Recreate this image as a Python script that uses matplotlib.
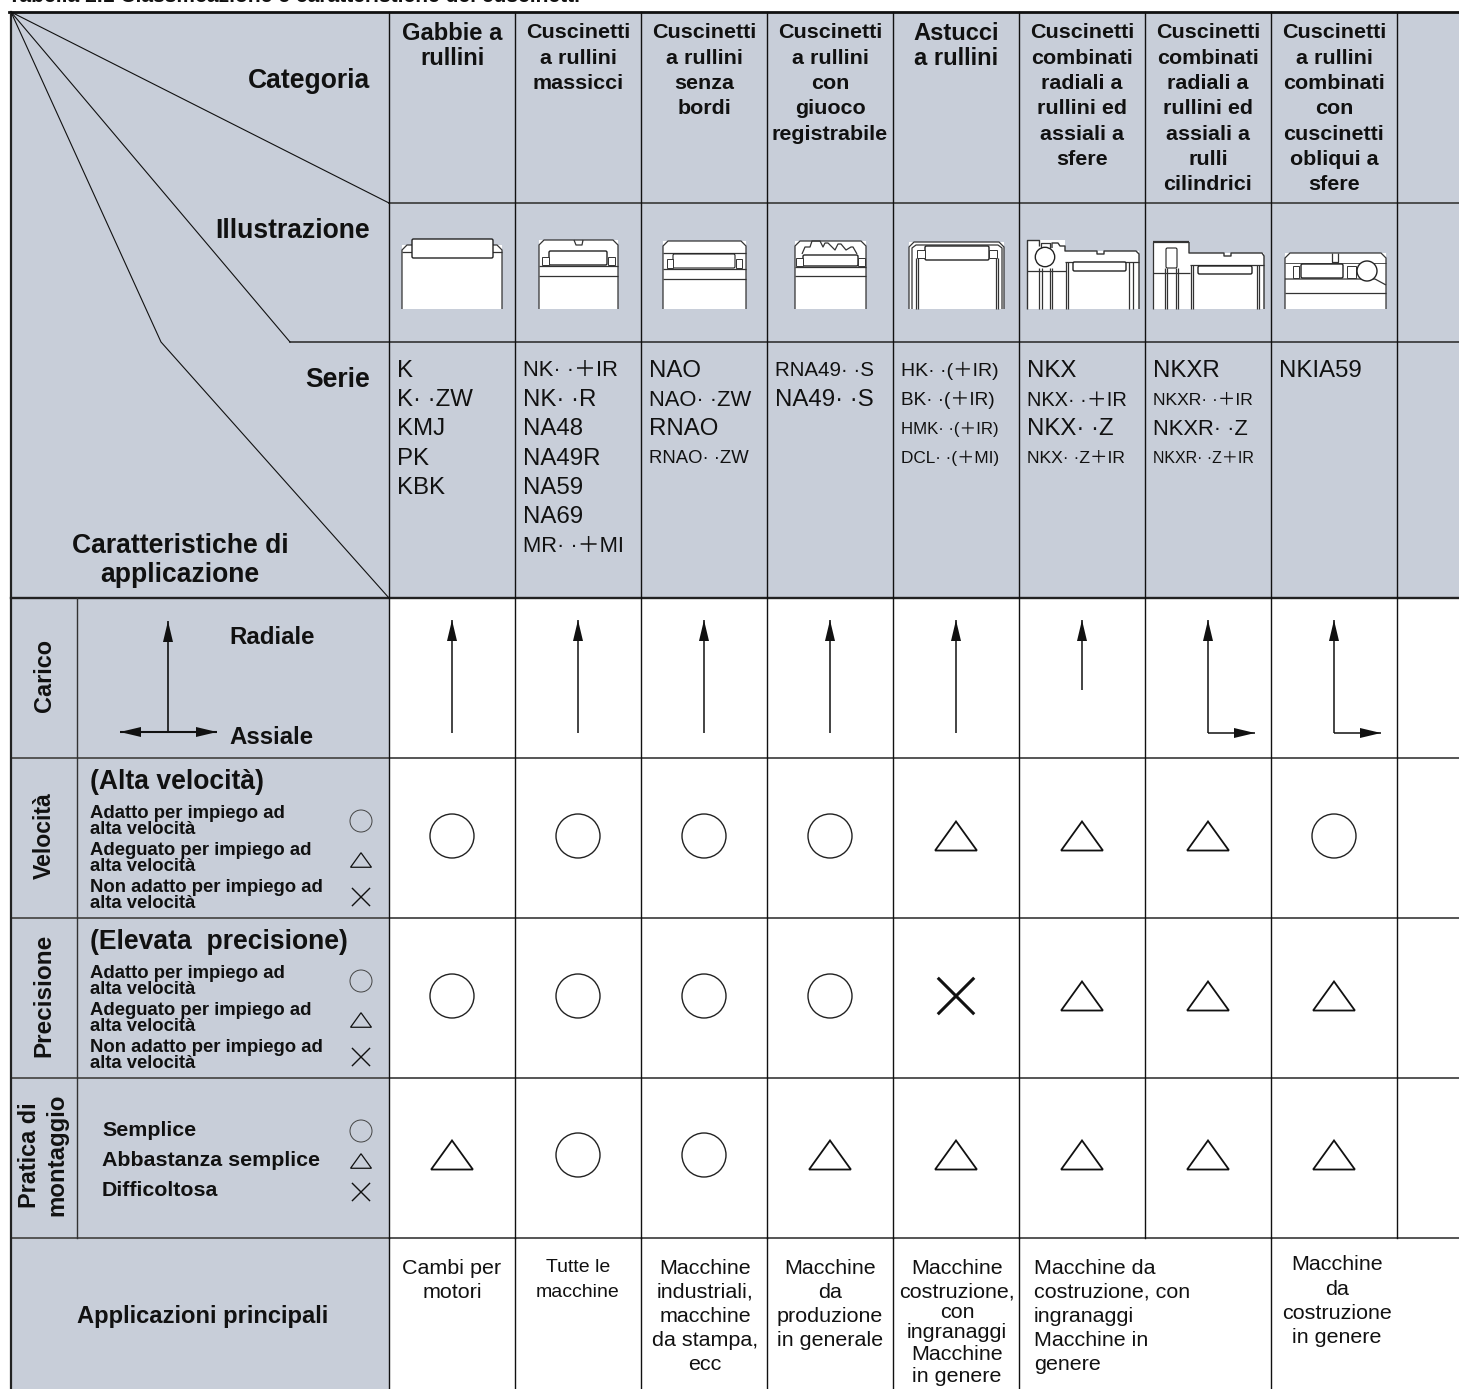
import matplotlib
matplotlib.use('Agg')
import matplotlib.pyplot as plt
from matplotlib.patches import Rectangle, Polygon, Circle, FancyBboxPatch

GREY = '#c8ced9'
SANS = ['Liberation Sans', 'Noto Sans CJK JP', 'DejaVu Sans']

# griglia della tabella
col_x = [389, 515, 641, 767, 893, 1019, 1145, 1271, 1397]
row_y = [12, 203, 342, 598, 758, 918, 1078, 1238, 1389]

categorie = [
    ['Gabbie a', 'rullini'],
    ['Cuscinetti', 'a rullini', 'massicci'],
    ['Cuscinetti', 'a rullini', 'senza', 'bordi'],
    ['Cuscinetti', 'a rullini', 'con', 'giuoco', 'registrabile'],
    ['Astucci', 'a rullini'],
    ['Cuscinetti', 'combinati', 'radiali a', 'rullini ed', 'assiali a', 'sfere'],
    ['Cuscinetti', 'combinati', 'radiali a', 'rullini ed', 'assiali a', 'rulli', 'cilindrici'],
    ['Cuscinetti', 'a rullini', 'combinati', 'con', 'cuscinetti', 'obliqui a', 'sfere'],
]
serie = [
    ['K', 'K· ·ZW', 'KMJ', 'PK', 'KBK'],
    ['NK· ·＋IR', 'NK· ·R', 'NA48', 'NA49R', 'NA59', 'NA69', 'MR· ·＋MI'],
    ['NAO', 'NAO· ·ZW', 'RNAO', 'RNAO· ·ZW'],
    ['RNA49· ·S', 'NA49· ·S'],
    ['HK· ·(＋IR)', 'BK· ·(＋IR)', 'HMK· ·(＋IR)', 'DCL· ·(＋MI)'],
    ['NKX', 'NKX· ·＋IR', 'NKX· ·Z', 'NKX· ·Z＋IR'],
    ['NKXR', 'NKXR· ·＋IR', 'NKXR· ·Z', 'NKXR· ·Z＋IR'],
    ['NKIA59'],
]
# corpi dei testi di serie, stessa forma di serie
serie_px = [
    [24, 24, 24, 24, 24],
    [22, 24, 24, 24, 24, 24, 22],
    [24, 22, 24, 18.5],
    [20.5, 24],
    [19.5, 19, 16.7, 17.2],
    [24, 20, 24, 17.5],
    [24, 17.5, 22, 16],
    [24],
]
# C = cerchio, T = triangolo, X = croce
velocita = ['C', 'C', 'C', 'C', 'T', 'T', 'T', 'C']
precisione = ['C', 'C', 'C', 'C', 'X', 'T', 'T', 'T']
montaggio = ['T', 'C', 'C', 'T', 'T', 'T', 'T', 'T']
radiale = [113, 113, 113, 113, 113, 70, 113, 113]
assiale = [0, 0, 0, 0, 0, 0, 1, 1]
legenda_vel = [['Adatto per impiego ad', 'alta velocità'],
               ['Adeguato per impiego ad', 'alta velocità'],
               ['Non adatto per impiego ad', 'alta velocità']]
legenda_mont = ['Semplice', 'Abbastanza semplice', 'Difficoltosa']
applicazioni = [
    ['Cambi per', 'motori'],
    ['Tutte le', 'macchine'],
    ['Macchine', 'industriali,', 'macchine', 'da stampa,', 'ecc'],
    ['Macchine', 'da', 'produzione', 'in generale'],
    ['Macchine', 'costruzione,', 'con', 'ingranaggi', 'Macchine', 'in genere'],
    ['Macchine da', 'costruzione, con', 'ingranaggi', 'Macchine in', 'genere'],
    ['Macchine', 'da', 'costruzione', 'in genere'],
]
app_x = [452, 578, 705, 830, 957, 1034, 1337]
app_y = [1268, 1268, 1268, 1268, 1268, 1268, 1265]

fig = plt.figure(figsize=(14.59, 13.89), dpi=100)
ax = fig.add_axes([0, 0, 1, 1])
ax.set_xlim(0, 1459)
ax.set_ylim(1389, 0)
ax.axis('off')


def txt(x, y, s, size, bold=True, ha='center', rot=0):
    if rot == 0:
        y = y + 2
    ax.text(x, y, s, fontsize=size * 0.72, fontweight='bold' if bold else 'normal', ha=ha,
            va='center', rotation=rot, family=SANS, color='#111111', linespacing=1.0)


def simbolo(x, y, kind, r):
    big = r > 15
    if kind == 'C':
        ax.add_patch(Circle((x, y), r, fc='none', ec='#222222' if big else '#444444',
                            lw=1.0 if big else 0.7, zorder=3))
    elif kind == 'T':
        h = r * 0.66
        ax.add_patch(Polygon([(x - r * 0.95, y + h), (x + r * 0.95, y + h), (x, y - h)], closed=True,
                             fc='none', ec='#111111', lw=1.3 if big else 0.9, zorder=3))
    else:
        d = r * 0.78
        lw = 2.2 if big else 1.0
        ax.plot([x - d, x + d], [y - d, y + d], color='#111111', lw=lw, zorder=3)
        ax.plot([x - d, x + d], [y + d, y - d], color='#111111', lw=lw, zorder=3)


def freccia(x0, y0, x1, y1, lw=1.1):
    # punta fatta a mano: lunga 21 px, larga 10 px
    ax.plot([x0, x1], [y0, y1], color='#111111', lw=lw, zorder=3, solid_capstyle='butt')
    lung = ((x1 - x0) ** 2 + (y1 - y0) ** 2) ** 0.5
    ux, uy = (x1 - x0) / lung, (y1 - y0) / lung
    bx, by = x1 - ux * 21, y1 - uy * 21
    ax.add_patch(Polygon([(x1, y1), (bx - uy * 5, by + ux * 5), (bx + uy * 5, by - ux * 5)],
                         closed=True, fc='#111111', ec='none', zorder=4))


def linea(xs, ys, lw=0.9):
    ax.plot(xs, ys, color='#333333', lw=lw, zorder=3, solid_capstyle='butt')


def bianco(left, top, right, bottom=309):
    ax.add_patch(Rectangle((left, top), right - left, bottom - top, fc='white', ec='none', zorder=2))


def profilo(left, right, top, bottom=309):
    bianco(left, top, right, bottom)
    linea([left, left, left + 5, right - 5, right, right], [bottom, top + 5, top, top, top + 5, bottom])


def rullo(left, right, top, bottom, lw=1.0):
    ax.add_patch(FancyBboxPatch((left + 1, top + 1), right - left - 2, bottom - top - 2,
                                boxstyle='round,pad=1,rounding_size=1.5', fc='white', ec='#222222',
                                lw=lw, zorder=4))


def gabbia(left, right, top, bottom):
    ax.add_patch(Rectangle((left, top), right - left, bottom - top, fc='white', ec='#333333', lw=0.7, zorder=4))


# sfondi
ax.add_patch(Rectangle((11, row_y[0]), 378, 1389 - row_y[0], fc=GREY, ec='none', zorder=0))
ax.add_patch(Rectangle((389, row_y[0]), 1459 - 389, row_y[3] - row_y[0], fc=GREY, ec='none', zorder=0))

# griglia
for y in row_y[:-1]:
    if y == 342:
        ax.plot([290, 1459], [y, y], color='#333333', lw=1.2, zorder=1)
    elif y == 203:
        ax.plot([389, 1459], [y, y], color='#444444', lw=1.3, zorder=1)
    elif y == 12:
        ax.plot([9, 1459], [y, y], color='#111111', lw=2.0, zorder=1)
    elif y == 598:
        ax.plot([11, 1459], [y, y], color='#222222', lw=1.7, zorder=1)
    else:
        ax.plot([11, 1459], [y, y], color='#555555', lw=1.4, zorder=1)
ax.plot([11, 11], [12, 1389], color='#222222', lw=1.6, zorder=1)
ax.plot([76.5, 76.5], [598, 1238], color='#333333', lw=1.0, zorder=1)
for x in col_x:
    ax.plot([x - 0.5, x - 0.5], [12, 1238], color='#111111', lw=1.0, zorder=1)
    if x not in (1145, 1397):
        ax.plot([x - 0.5, x - 0.5], [1238, 1389], color='#111111', lw=1.0, zorder=1)

# diagonali
ax.plot([11, 389], [12, 203], color='#111111', lw=0.8, zorder=1)
ax.plot([11, 290], [12, 342], color='#111111', lw=0.8, zorder=1)
ax.plot([11, 161, 389], [12, 342, 598], color='#111111', lw=0.8, zorder=1)

# titolo, tagliato in alto come nell'originale
txt(8, -5, 'Tabella 2.1 Classificazione e caratteristiche dei cuscinetti', 21, ha='left')

txt(370, 79, 'Categoria', 26.5, ha='right')
txt(370, 229, 'Illustrazione', 26.5, ha='right')
txt(370, 378, 'Serie', 26.5, ha='right')
txt(180, 544, 'Caratteristiche di', 26.5)
txt(180, 573, 'applicazione', 26.5)

centri = [(col_x[i] + col_x[i + 1]) / 2 for i in range(8)]
for j, c in enumerate(centri):
    size = 23.8 if j in (0, 4) else 21.5
    for i, riga in enumerate(categorie[j]):
        txt(c, 31 + 25.3 * i, riga, size)
    for i, s in enumerate(serie[j]):
        txt(col_x[j] + 8, 369 + 29.2 * i, s, serie_px[j][i], bold=False, ha='left')

    # carico
    if assiale[j]:
        freccia(c, 733, c, 620)
        freccia(c, 733, c + 47, 733)
    else:
        freccia(c, 620 + radiale[j], c, 620)

    simbolo(c, 836, velocita[j], 22)
    simbolo(c, 996, precisione[j], 22)
    simbolo(c, 1155, montaggio[j], 22)

# colonna sinistra
txt(44, 675, 'Carico', 23.5, rot=90)
txt(44, 836, 'Velocità', 23, rot=90)
txt(44, 995, 'Precisione', 24.3, rot=90)
txt(30, 1155, 'Pratica di', 23.5, rot=90)
txt(57, 1155, 'montaggio', 24, rot=90)

freccia(168, 733, 168, 621, lw=1.2)
freccia(168, 732, 120, 732, lw=1.5)
freccia(168, 732, 217, 732, lw=1.5)
txt(229, 635.5, 'Radiale', 24, ha='left')
txt(229, 735, 'Assiale', 24, ha='left')

for y0, titolo in [(780, '(Alta velocità)'), (940, '(Elevata  precisione)')]:
    txt(90, y0, titolo, 26.5, ha='left')
    for i, righe in enumerate(legenda_vel):
        yy = y0 + 31 + 37.5 * i
        txt(90, yy, righe[0], 18.5, ha='left')
        txt(90, yy + 16, righe[1], 18.5, ha='left')
    for k, yy in zip('CTX', (41, 80, 117)):
        simbolo(361, y0 + yy, k, 11)

for i, s in enumerate(legenda_mont):
    txt(102, 1129 + 30 * i, s, 21.4, ha='left')
for k, yy in zip('CTX', (1131, 1161, 1192)):
    simbolo(361, yy, k, 11)

txt(203, 1314, 'Applicazioni principali', 23.8)
passi = [24.2, 24.2, 24.2, 24.2, None, 24.2, 24.2]
righe_col5 = [1266, 1290, 1311, 1331, 1353, 1374]
for j, righe in enumerate(applicazioni):
    ha = 'left' if j == 5 else 'center'
    size = 19.5 if j == 1 else 21.5
    for i, s in enumerate(righe):
        y = righe_col5[i] if passi[j] is None else app_y[j] - 2 + passi[j] * i
        txt(app_x[j], y, s, size, bold=False, ha=ha)

# illustrazioni
# 1 gabbia
profilo(402, 502, 245)
linea([402, 502], [252, 252])
rullo(412, 493, 239, 258)
# 2 massicci
profilo(539, 618, 240)
bianco(539, 250, 618, 266)
linea([539, 618], [266, 266])
linea([539, 618], [276, 276])
rullo(549, 607, 251, 265)
gabbia(542, 549, 257, 265)
gabbia(608, 615, 257, 265)
linea([574, 576, 582, 583], [240, 245, 245, 240])
# 3 senza bordi
profilo(663, 746, 241)
linea([663, 746], [253, 253])
linea([663, 746], [279, 279])
linea([663, 746], [269, 269])
rullo(673, 735, 254, 268, 0.8)
gabbia(667, 673, 259, 268)
gabbia(736, 742, 259, 268)
# 4 giuoco registrabile
profilo(795, 866, 241)
linea([795, 866], [276, 276])
linea([795, 866], [267, 267])
rullo(803, 858, 255, 266)
linea([802, 805, 810, 812, 820, 823, 825, 828, 835, 838, 841, 846, 851, 853, 857],
      [254, 247, 247, 241, 241, 247, 243, 243, 250, 244, 244, 250, 247, 247, 254])
gabbia(796, 803, 258, 266)
gabbia(858, 865, 258, 266)
# 5 astucci
profilo(909, 1004, 242)
linea([912, 912, 916, 998, 1002, 1002], [309, 248, 245, 245, 248, 309])
linea([916, 916], [258, 309])
linea([918, 918], [258, 309])
linea([996, 996], [258, 309])
linea([998, 998], [258, 309])
rullo(925, 989, 246, 260)
gabbia(917, 925, 250, 258)
gabbia(989, 997, 250, 258)
# 6 combinato a sfere
bianco(1027, 240, 1065)
bianco(1065, 251, 1139)
linea([1027, 1027, 1039, 1039], [309, 240, 240, 246], 1.0)
linea([1052, 1052, 1058, 1060, 1065, 1065, 1097, 1097, 1104, 1104, 1136, 1139, 1139],
      [248, 243, 243, 246, 246, 251, 251, 254, 254, 251, 251, 254, 309], 1.0)
linea([1065, 1139], [262, 262])
linea([1027, 1066], [271, 271])
for x in (1039, 1042, 1050, 1052):
    linea([x, x], [268, 309])
for x in (1066, 1068, 1129, 1133):
    linea([x, x], [262, 309])
rullo(1073, 1126, 262, 271)
linea([1041, 1041, 1050, 1050], [248, 243, 243, 248])
ax.add_patch(Circle((1045, 257), 9.7, fc='white', ec='#222222', lw=1.0, zorder=5))
# 7 combinato a rulli
bianco(1153, 242, 1189)
bianco(1189, 253, 1264)
linea([1153, 1153], [309, 242])
linea([1153, 1189], [242, 242], 1.6)
linea([1189, 1189, 1224, 1224, 1231, 1231, 1262, 1264, 1264],
      [242, 253, 253, 256, 256, 253, 253, 256, 309], 1.0)
linea([1153, 1190], [273, 273])
linea([1190, 1264], [265, 265])
for x in (1165, 1167, 1176, 1178):
    linea([x, x], [268, 309])
for x in (1191, 1193, 1257, 1259):
    linea([x, x], [265, 309])
rullo(1166, 1177, 248, 268, 0.8)
rullo(1198, 1252, 266, 274)
# 8 obliquo a sfere
profilo(1285, 1386, 253)
linea([1332, 1332, 1338, 1338], [253, 262, 262, 253])
linea([1285, 1350, 1375, 1386], [279, 279, 279, 285])
linea([1285, 1386], [293, 293])
linea([1285, 1386], [263, 263], 0.6)
rullo(1301, 1343, 264, 278)
gabbia(1293, 1299, 266, 278)
gabbia(1347, 1356, 266, 278)
ax.add_patch(Circle((1367, 271), 10, fc='white', ec='#222222', lw=1.0, zorder=5))

fig.savefig('out.png', dpi=100)
